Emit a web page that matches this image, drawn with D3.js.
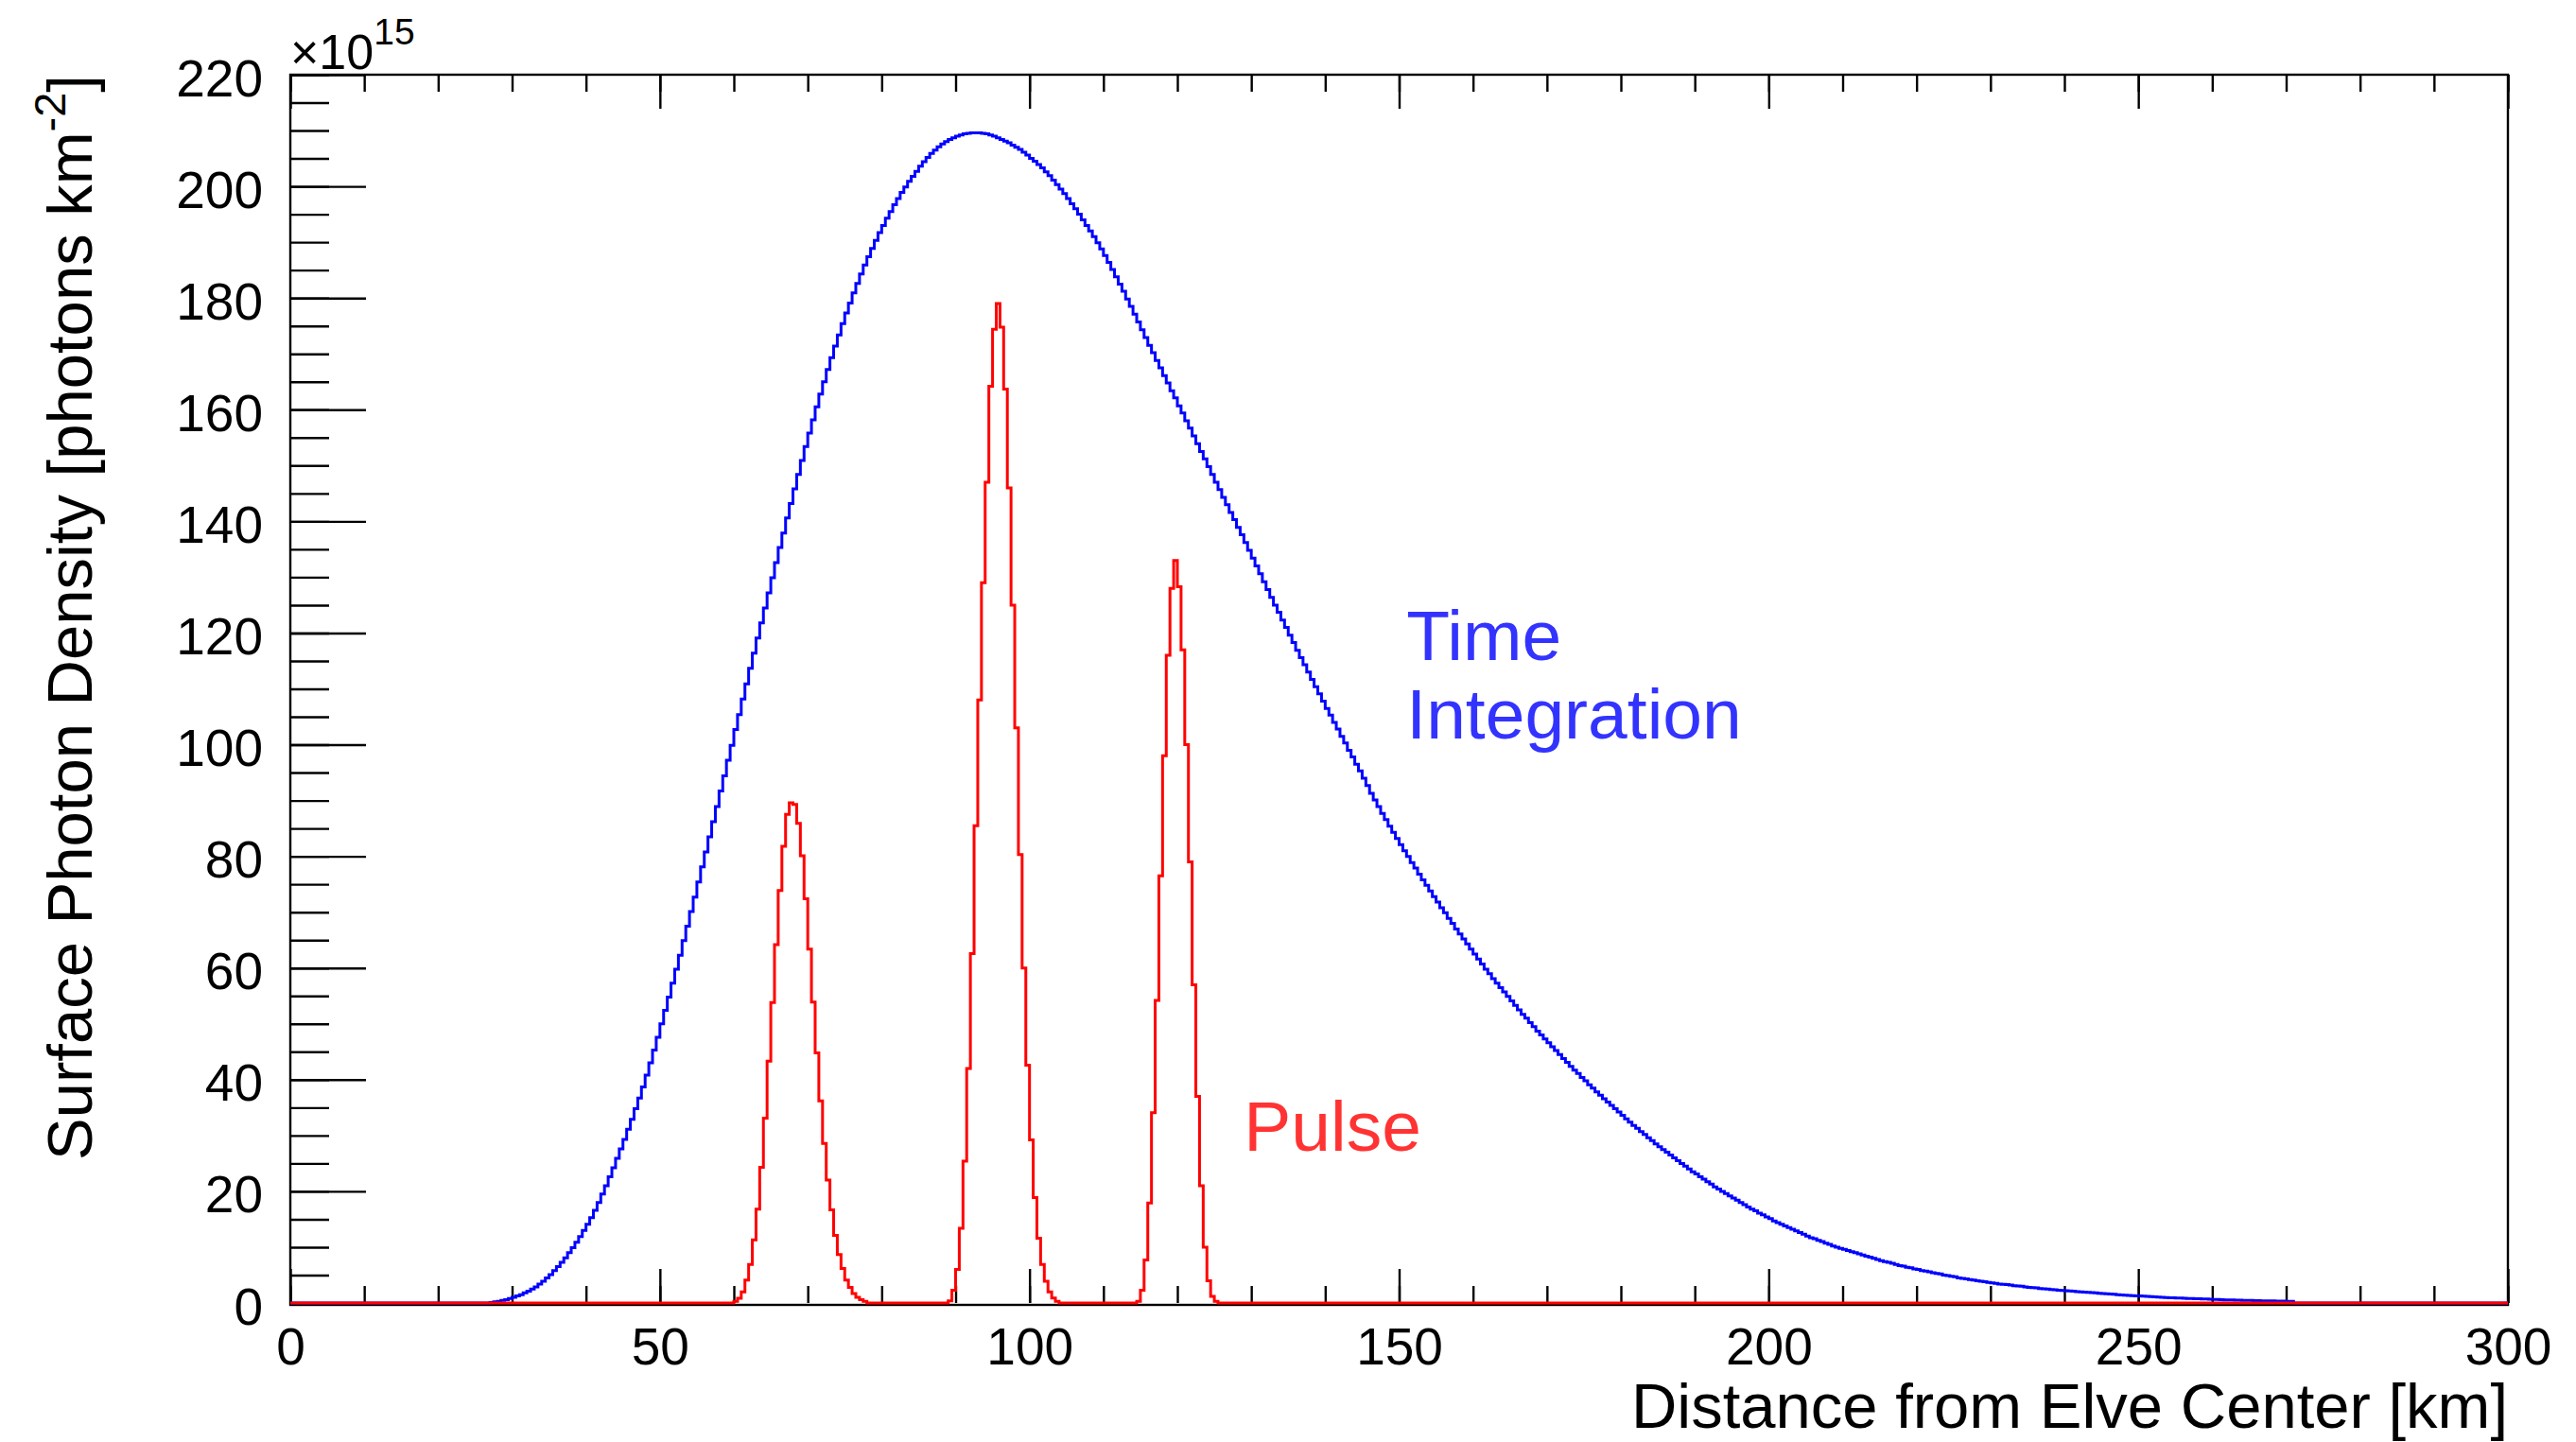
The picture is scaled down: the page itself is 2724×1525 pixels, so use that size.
<!DOCTYPE html>
<html>
<head>
<meta charset="utf-8">
<script src="https://cdn.jsdelivr.net/npm/d3@7"></script>
<style>
  body { margin: 0; background: #fff; }
  svg text { font-family: "Liberation Sans", Arial, sans-serif; }
</style>
</head>
<body>
<div id="chart"></div>
<script>
// Elve surface photon density, time integrated (blue) and pulse snapshots (red)
// values in units of 1e15 photons km^-2, histograms with 0.5 km bins

const binWidth = 0.5;
const xMax = 300;

// time integration, first bin starts at 27 km
const integStart = 27;
const integValues = [
    0.1, 0.2, 0.3, 0.45, 0.6, 0.8, 1.0, 1.25, 1.5, 1.8, 2.1, 2.5, 2.9, 3.4, 3.9, 4.5, 5.1, 5.8, 6.5, 7.3,
    8.1, 9.0, 9.9, 10.9, 11.9, 13.0, 14.1, 15.3, 16.6, 18.0, 19.5, 21.0, 22.6, 24.2, 25.9, 27.6, 29.3, 31.1, 32.9, 34.8,
    36.7, 38.7, 40.8, 43.0, 45.3, 47.6, 50.0, 52.4, 54.8, 57.3, 59.8, 62.3, 64.9, 67.5, 70.1, 72.7, 75.4, 78.1, 80.8, 83.5,
    86.2, 88.9, 91.7, 94.4, 97.2, 99.9, 102.7, 105.4, 108.2, 110.9, 113.7, 116.4, 119.1, 121.8, 124.5, 127.2, 129.9, 132.6, 135.3, 137.9,
    140.6, 143.2, 145.8, 148.4, 150.9, 153.4, 155.8, 158.2, 160.5, 162.8, 165.0, 167.2, 169.3, 171.4, 173.4, 175.4, 177.3, 179.1, 180.9, 182.6,
    184.3, 185.9, 187.4, 188.9, 190.3, 191.7, 193.0, 194.3, 195.5, 196.7, 197.8, 198.9, 199.9, 200.9, 201.8, 202.7, 203.6, 204.4, 205.2, 205.9,
    206.5, 207.1, 207.6, 208.0, 208.4, 208.7, 209.0, 209.2, 209.4, 209.5, 209.6, 209.6, 209.6, 209.5, 209.4, 209.2, 209.0, 208.7, 208.4, 208.1,
    207.8, 207.4, 207.0, 206.6, 206.1, 205.6, 205.0, 204.5, 203.9, 203.3, 202.6, 201.9, 201.1, 200.3, 199.5, 198.7, 197.8, 196.9, 196.0, 195.0,
    194.0, 193.0, 192.0, 191.0, 189.9, 188.8, 187.6, 186.4, 185.1, 183.8, 182.5, 181.2, 179.8, 178.5, 177.1, 175.7, 174.3, 172.9, 171.5, 170.2,
    168.8, 167.5, 166.1, 164.8, 163.4, 162.1, 160.7, 159.4, 158.0, 156.7, 155.3, 153.9, 152.5, 151.2, 149.8, 148.4, 147.0, 145.7, 144.3, 143.0,
    141.6, 140.3, 138.9, 137.6, 136.2, 134.8, 133.4, 132.0, 130.6, 129.2, 127.8, 126.4, 125.0, 123.7, 122.3, 121.0, 119.6, 118.3, 116.9, 115.6,
    114.3, 113.0, 111.7, 110.4, 109.1, 107.8, 106.5, 105.3, 104.0, 102.8, 101.5, 100.3, 99.0, 97.8, 96.5, 95.3, 94.0, 92.7, 91.3, 90.1,
    88.9, 87.7, 86.6, 85.4, 84.3, 83.2, 82.1, 81.0, 80.0, 78.9, 77.9, 76.8, 75.8, 74.8, 73.8, 72.8, 71.8, 70.8, 69.9, 68.9,
    68.0, 67.0, 66.1, 65.2, 64.3, 63.4, 62.5, 61.6, 60.7, 59.8, 59.0, 58.1, 57.3, 56.5, 55.7, 54.9, 54.1, 53.3, 52.5, 51.7,
    51.0, 50.2, 49.5, 48.7, 48.0, 47.3, 46.6, 45.9, 45.2, 44.5, 43.8, 43.1, 42.4, 41.7, 41.1, 40.4, 39.8, 39.1, 38.5, 37.8,
    37.2, 36.6, 36.0, 35.4, 34.8, 34.2, 33.6, 33.0, 32.4, 31.8, 31.3, 30.7, 30.2, 29.6, 29.1, 28.5, 28.0, 27.5, 27.0, 26.5,
    26.0, 25.5, 25.0, 24.5, 24.0, 23.5, 23.1, 22.6, 22.2, 21.7, 21.3, 20.8, 20.4, 20.0, 19.6, 19.2, 18.8, 18.4, 18.0, 17.6,
    17.2, 16.8, 16.5, 16.1, 15.8, 15.4, 15.1, 14.7, 14.4, 14.1, 13.8, 13.5, 13.2, 12.9, 12.6, 12.3, 12.0, 11.7, 11.5, 11.2,
    11.0, 10.7, 10.5, 10.2, 10.0, 9.8, 9.6, 9.4, 9.2, 9.0, 8.8, 8.6, 8.4, 8.2, 8.0, 7.8, 7.6, 7.4, 7.3, 7.1,
    6.9, 6.7, 6.6, 6.4, 6.3, 6.1, 6.0, 5.8, 5.7, 5.6, 5.4, 5.3, 5.2, 5.0, 4.9, 4.8, 4.7, 4.5, 4.4, 4.3,
    4.2, 4.1, 4.0, 3.9, 3.8, 3.7, 3.6, 3.5, 3.4, 3.35, 3.3, 3.2, 3.1, 3.05, 3.0, 2.9, 2.8, 2.75, 2.7, 2.6,
    2.55, 2.5, 2.4, 2.35, 2.3, 2.25, 2.2, 2.15, 2.1, 2.05, 2.0, 1.95, 1.9, 1.85, 1.8, 1.75, 1.7, 1.65, 1.6, 1.55,
    1.5, 1.45, 1.4, 1.37, 1.33, 1.29, 1.25, 1.21, 1.17, 1.13, 1.1, 1.06, 1.02, 0.98, 0.95, 0.92, 0.9, 0.87, 0.85, 0.82,
    0.8, 0.77, 0.75, 0.72, 0.7, 0.67, 0.65, 0.62, 0.6, 0.57, 0.55, 0.53, 0.5, 0.49, 0.48, 0.46, 0.45, 0.43, 0.42, 0.4,
    0.39, 0.38, 0.36, 0.35, 0.34, 0.32, 0.3, 0.3
];

// pulse snapshots (red histogram), one array per pulse
const pulse1Start = 60;
const pulse1Values = [0.3, 0.85, 2.0, 4.1, 6.9, 11.3, 16.8, 24.3, 33.1, 43.3, 53.8, 64.2, 73.9, 81.8, 87.5, 89.6,
    89.3, 85.9, 80.1, 72.4, 63.4, 53.9, 44.8, 36.2, 28.6, 22.0, 16.7, 12.1, 8.7, 6.2, 4.1, 2.8, 1.7, 1.0, 0.6, 0.3];
const pulse2Start = 89;
const pulse2Values = [0.4, 2.3, 6.0, 13.4, 25.4, 42.0, 62.6, 85.5, 108, 129, 147, 164.2, 174.4, 179, 174.8,
    163.7, 146, 125, 103, 80.3, 60.0, 42.6, 29.2, 18.9, 11.6, 6.9, 3.9, 2.0, 0.9, 0.3];
const pulse3Start = 114.5;
const pulse3Values = [0.3, 2.3, 7.7, 17.9, 34.1, 54.2, 76.5, 98, 116, 128.0, 133, 128.3, 117, 100, 79, 57,
    37, 21, 10, 4, 1.2, 0.3];

const xMajorTicks = [0, 50, 100, 150, 200, 250, 300];
const xMinorTicks = d3.range(0, 301, 10);
const yMajorTicks = [0, 20, 40, 60, 80, 100, 120, 140, 160, 180, 200, 220];
const yMinorTicks = d3.range(0, 221, 5);

const width = 2724, height = 1525;
const plot = {left: 307, right: 2652, top: 79, bottom: 1378};

// put the values of one or more series into a full 0..300 km bin array
function fillBins(series){
    let nBins = Math.round(xMax / binWidth);
    let bins = new Array(nBins).fill(0);
    series.forEach(s => {
        let first = Math.round(s.start / binWidth);
        s.values.forEach((v, i) => { bins[first + i] += v; });
    });
    // step points: [bin low edge, content], plus the upper edge of the last bin
    let pts = bins.map((v, i) => [i * binWidth, v]);
    pts.push([xMax, bins[nBins - 1]]);
    return pts;
}

const integBins = fillBins([{start: integStart, values: integValues}]);
const pulseBins = fillBins([
    {start: pulse1Start, values: pulse1Values},
    {start: pulse2Start, values: pulse2Values},
    {start: pulse3Start, values: pulse3Values}
]);

const svg = d3.select("#chart")
    .append("svg")
    .attr("width", width)
    .attr("height", height);

const x = d3.scaleLinear().domain([0, xMax]).range([plot.left, plot.right]);
const y = d3.scaleLinear().domain([0, 220]).range([plot.bottom, plot.top]);

// axes, ROOT style ticks pointing into the frame
function styleAxis(g){
    g.select(".domain").remove();
    g.selectAll("line").attr("stroke", "#000").attr("stroke-width", 2.4);
    g.selectAll("text")
        .attr("fill", "#000")
        .style("font-size", "55px")
        .style("font-family", "'Liberation Sans', Arial, sans-serif");
}

svg.append("g")
    .attr("transform", "translate(0," + plot.bottom + ")")
    .call(d3.axisBottom(x).tickValues(xMinorTicks).tickSize(-18).tickFormat(""))
    .call(styleAxis);
svg.append("g")
    .attr("transform", "translate(0," + plot.bottom + ")")
    .call(d3.axisBottom(x).tickValues(xMajorTicks).tickSize(-36).tickPadding(26).tickFormat(d3.format("d")))
    .call(styleAxis);

svg.append("g")
    .attr("transform", "translate(0," + plot.top + ")")
    .call(d3.axisTop(x).tickValues(xMinorTicks).tickSize(-18).tickFormat(""))
    .call(styleAxis);
svg.append("g")
    .attr("transform", "translate(0," + plot.top + ")")
    .call(d3.axisTop(x).tickValues(xMajorTicks).tickSize(-36).tickFormat(""))
    .call(styleAxis);

svg.append("g")
    .attr("transform", "translate(" + plot.left + ",0)")
    .call(d3.axisLeft(y).tickValues(yMinorTicks).tickSize(-41).tickFormat(""))
    .call(styleAxis);
let yAxisMajor = svg.append("g")
    .attr("transform", "translate(" + plot.left + ",0)")
    .call(d3.axisLeft(y).tickValues(yMajorTicks).tickSize(-80).tickPadding(29).tickFormat(d3.format("d")))
    .call(styleAxis);
// ROOT puts the labels a hair below the tick
yAxisMajor.selectAll("text").attr("dy", "0.4em");

// frame
svg.append("rect")
    .attr("x", plot.left)
    .attr("y", plot.top)
    .attr("width", plot.right - plot.left)
    .attr("height", plot.bottom + 2 - plot.top)
    .attr("fill", "none")
    .attr("stroke", "#000")
    .attr("stroke-width", 2.4);

// histograms
const stepLine = d3.line()
    .x(d => x(d[0]))
    .y(d => y(d[1]))
    .curve(d3.curveStepAfter);

svg.append("path")
    .attr("d", stepLine(integBins))
    .attr("fill", "none")
    .attr("stroke", "#0000ff")
    .attr("stroke-width", 3);

svg.append("path")
    .attr("d", stepLine(pulseBins))
    .attr("fill", "none")
    .attr("stroke", "#ff0000")
    .attr("stroke-width", 3);

// exponent of the y axis
let expo = svg.append("text")
    .attr("x", plot.left)
    .attr("y", 73)
    .style("font-size", "52px");
expo.append("tspan").text("\u00d710");
expo.append("tspan").attr("dy", -26).style("font-size", "39px").text("15");

// axis titles
svg.append("text")
    .attr("x", plot.right)
    .attr("y", 1510)
    .attr("text-anchor", "end")
    .style("font-size", "67px")
    .text("Distance from Elve Center [km]");

let yTitle = svg.append("text")
    .attr("transform", "translate(97," + plot.top + ") rotate(-90)")
    .attr("text-anchor", "end")
    .style("font-size", "67px");
yTitle.append("tspan").text("Surface Photon Density [photons km");
yTitle.append("tspan").attr("dy", -28).style("font-size", "47px").text("-2");
yTitle.append("tspan").attr("dy", 28).text("]");

// labels
svg.append("text")
    .attr("x", x(151))
    .attr("y", 698)
    .attr("fill", "#3333ff")
    .style("font-size", "75px")
    .text("Time");
svg.append("text")
    .attr("x", x(151))
    .attr("y", 781)
    .attr("fill", "#3333ff")
    .style("font-size", "75px")
    .text("Integration");
svg.append("text")
    .attr("x", x(129))
    .attr("y", 1217)
    .attr("fill", "#ff3333")
    .style("font-size", "75px")
    .text("Pulse");
</script>
</body>
</html>
